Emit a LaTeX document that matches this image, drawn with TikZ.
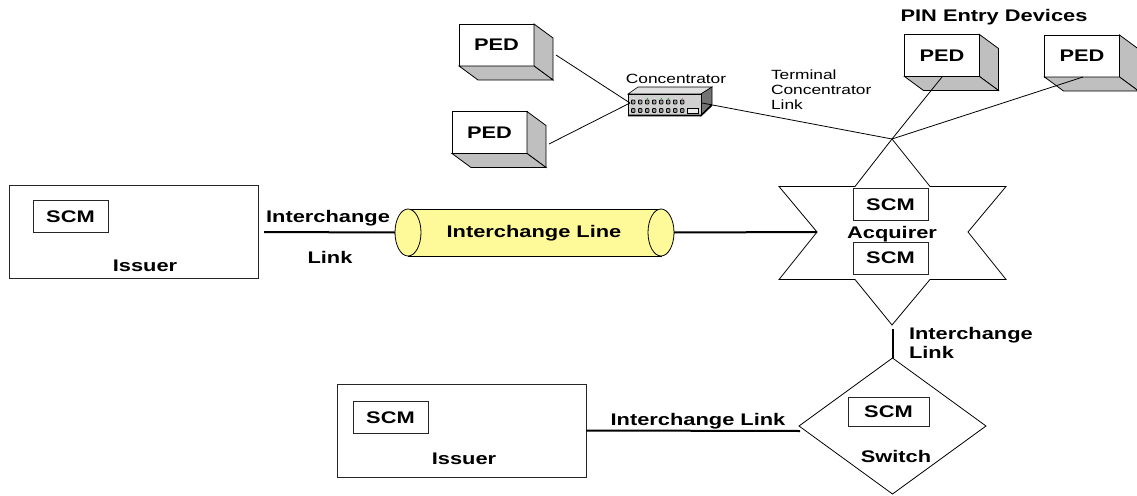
\documentclass[tikz,border=0pt]{standalone}
\usetikzlibrary{shapes.geometric}
\usepackage{fontspec}
\setmainfont[FakeStretch=1.3]{Liberation Sans}
\begin{document}
\begin{tikzpicture}[x=1pt,y=-1pt,
  every node/.style={inner sep=0pt,outer sep=0pt},
  lbl/.style={font=\fontsize{16.8pt}{19pt}\selectfont\bfseries},
  sm/.style={font=\fontsize{13.35pt}{15pt}\selectfont},
  frontbox/.style={draw=black!85,fill=white,line width=0.8pt},
  boxn/.style={draw=black!85,fill=white,line width=0.8pt,minimum width=75pt,minimum height=32pt,font=\fontsize{16.8pt}{19pt}\selectfont\bfseries},
  pedn/.style={draw=black,fill=white,line width=0.8pt,minimum width=75pt,minimum height=42pt,font=\fontsize{16.8pt}{19pt}\selectfont\bfseries},
  sideface/.style={draw=black,fill=black!25,line width=0.8pt},
  thin line/.style={draw=black,line width=0.8pt},
  thick link/.style={draw=black,line width=2pt},
  cyl/.style={draw=black,fill=yellow!40!white,line width=0.8pt}]
\useasboundingbox (0,0) rectangle (1137,495);
\newcommand{\pedfaces}[1]{%
  \path[sideface] (#1.north east) -- ++(19,14) -- ++(0,42) -- ++(-19,-14) -- cycle;
  \path[sideface] (#1.south west) -- ++(19,14) -- ++(75,0) -- ++(-19,-14) -- cycle;}
% PEDs
\node[pedn] (p1) at (496.5,45) {PED}; \pedfaces{p1}
\node[pedn] (p2) at (489.5,132.5) {PED}; \pedfaces{p2}
\node[pedn] (p3) at (942,55.5) {PED}; \pedfaces{p3}
\node[pedn] (p4) at (1082,56) {PED}; \pedfaces{p4}
\node[lbl] (ped label) at (994,17.5) {PIN Entry Devices};
% Star
\coordinate (hub) at (892,139);
\path[thin line,fill=white] (hub) -- (930,186.5) -- (1006,186.5) -- (968,232) -- (1006,279.5) -- (930,279.5) -- (892,325) -- (855,279.5) -- (779,279.5) -- (817,232) -- (779,186.5) -- (855,186.5) -- cycle;
\coordinate (starW) at (817,232);
\coordinate (starS) at (892.5,329);
\node[boxn] (s1) at (890.5,204.5) {SCM};
\node[boxn] (s2) at (890.5,258) {SCM};
\node[lbl] (acq) at (892,234) {Acquirer};
% Concentrator
\coordinate (conc) at (630,103);
\coordinate (concR) at (702,103);
\path[draw=black,fill=black!12,line width=0.6pt] (628,94) -- (638,87) -- (712,87) -- (701,94) -- cycle;
\path[fill=black!55,draw=black,line width=0.6pt] (701,94) -- (712,87) -- (712,104) -- (701,116) -- cycle;
\path[draw=black,fill=black!18,line width=0.6pt] (628,94) rectangle (701,115);
\path[draw=black,line width=1.6pt] (628,115.5) -- (701,115.5) -- (712,105);
\foreach \i in {0,...,7} {
  \path[draw=black,fill=black!40,line width=0.8pt,rounded corners=0.8pt] ({631.5+7*\i},100) rectangle +(3.4,4);
  \path[draw=black,fill=black!40,line width=0.8pt,rounded corners=0.8pt] ({631.5+7*\i},108.5) rectangle +(3.4,4);
}
\foreach \i in {2,4,5} {\path[fill=green!70!black] ({632.5+7*\i},97.5) rectangle +(1.5,1.2);}
\foreach \i in {0,1,3,6} {\path[fill=white] ({632.5+7*\i},97.5) rectangle +(1.5,1.2);}
\path[fill=red!60!white] (681.5,97.5) rectangle +(1.5,1.2);
\path[draw=black,fill=black!8,line width=0.8pt] (687,108.5) rectangle (698,113);
\node[sm] (conc label) at (676,78.5) {Concentrator};
\node[sm,align=left,anchor=north west] (tcl) at (771,70) {Terminal\\Concentrator\\Link};
% thin links
\coordinate (a1) at (556,55); \coordinate (a2) at (549,144);
\coordinate (a3) at (942,77); \coordinate (a4) at (1083,77);
\draw[thin line] (a1) -- (conc);
\draw[thin line] (a2) -- (conc);
\draw[thin line] (concR) -- (hub);
\draw[thin line] (a3) -- (hub);
\draw[thin line] (a4) -- (hub);
% Cylinder
\path[cyl] (408,209) rectangle (661,256);
\node[cyl,ellipse,minimum width=26pt,minimum height=47pt] (cylL) at (408,232.5) {};
\node[cyl,ellipse,minimum width=26pt,minimum height=47pt] (cylR) at (661,232.5) {};
\node[lbl] (cyl label) at (534,233) {Interchange Line};
% Issuer top
\node[frontbox,minimum width=249pt,minimum height=93pt] (iss1) at (133.5,231.5) {};
\node[boxn] (s3) at (70.5,216.5) {SCM};
\node[lbl] (iss1 label) at (145,266) {Issuer};
\coordinate (iss1R) at (264,232);
\draw[thick link] (iss1R) -- (cylL.west);
\draw[thick link] (cylR.east) -- (starW);
\node[lbl] (il1) at (328,218.5) {Interchange};
\node[lbl] (il1b) at (330,257) {Link};
% Switch
\node[draw=black,fill=white,line width=0.8pt,diamond,minimum width=187pt,minimum height=136pt,aspect=1.375] (swc) at (892.5,426) {};
\coordinate (swW) at (800,431);
\node[boxn,minimum width=81pt,minimum height=29pt] (s4) at (888.5,411.5) {SCM};
\node[lbl] (sw label) at (896,456) {Switch};
\draw[thick link] (starS) -- (swc.north);
\node[lbl,anchor=west,align=left] (il2) at (909,342.5) {Interchange\\Link};
% Issuer bottom
\node[frontbox,minimum width=249pt,minimum height=93pt] (iss2) at (461.5,430.5) {};
\node[boxn] (s5) at (390.5,417.5) {SCM};
\node[lbl] (iss2 label) at (464,459) {Issuer};
\draw[thick link] (iss2.east) -- (swW);
\node[lbl] (il3) at (698,421.5) {Interchange Link};
\end{tikzpicture}
\end{document}
